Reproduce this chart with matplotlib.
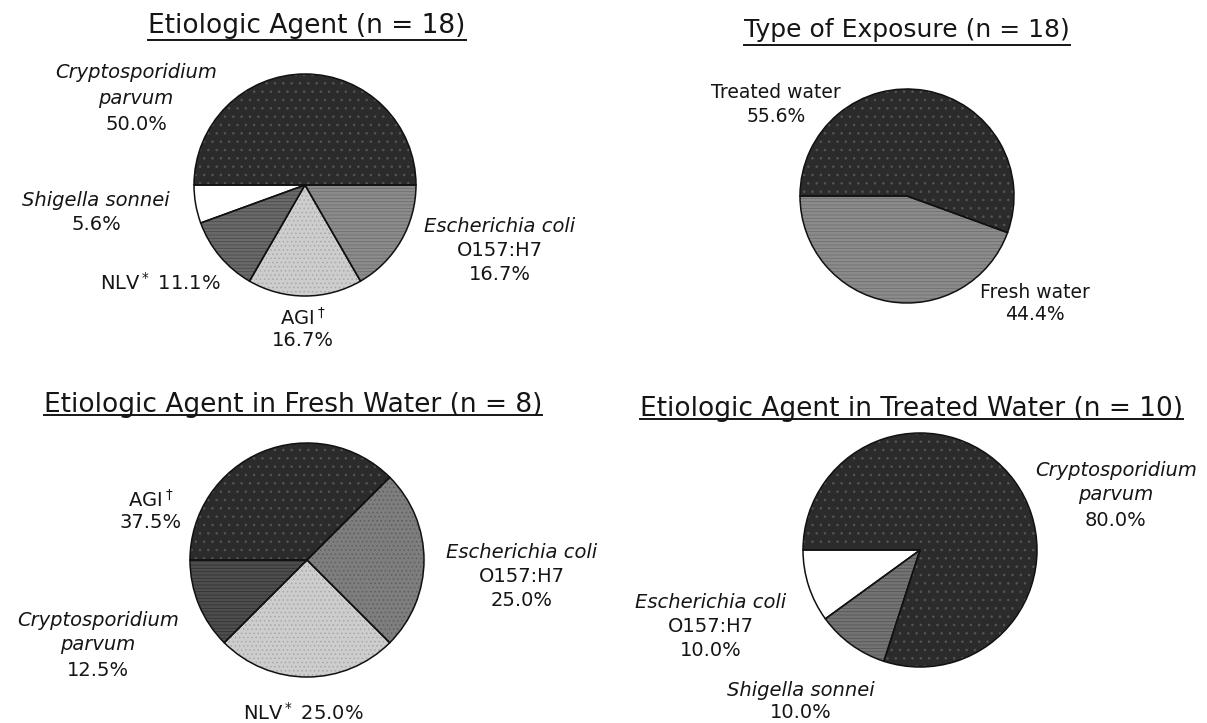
import matplotlib
matplotlib.use('Agg')
import matplotlib.pyplot as plt

W, H = 1207, 723

# case counts (percentages in labels are counts / n)
agent_names = ['Cryptosporidium parvum', 'Shigella sonnei', 'NLV', 'AGI', 'Escherichia coli O157:H7']
agent_counts = [9, 1, 2, 3, 3]

exposure_names = ['Fresh water', 'Treated water']
exposure_counts = [8, 10]

fresh_names = ['AGI', 'Cryptosporidium parvum', 'NLV', 'Escherichia coli O157:H7']
fresh_counts = [3, 1, 2, 2]

treated_names = ['Escherichia coli O157:H7', 'Shigella sonnei', 'Cryptosporidium parvum']
treated_counts = [1, 1, 8]

titles = ['Etiologic Agent (n = 18)', 'Type of Exposure (n = 18)',
          'Etiologic Agent in Fresh Water (n = 8)',
          'Etiologic Agent in Treated Water (n = 10)']

# fill colour + (hatch, hatch colour) to fake the scanned screen textures
DARK = ('#2b2b2b', '..', '#555555')
WHITE = ('#ffffff', '', '#ffffff')
LIGHT = ('#cdcdcd', '....', '#a8a8a8')
MID = ('#8c8c8c', '-----', '#6e6e6e')
MIDDARK = ('#6a6a6a', '-----', '#4a4a4a')

plt.rcParams['font.family'] = 'DejaVu Sans'
plt.rcParams['hatch.linewidth'] = 0.6
fig = plt.figure(figsize=(W / 100, H / 100), dpi=100)
bg = fig.add_axes([0, 0, 1, 1])
bg.set_xlim(0, W)
bg.set_ylim(H, 0)
bg.axis('off')


def pie_at(counts, styles, start, cx, cy, r):
    ax = fig.add_axes([(cx - r) / W, 1 - (cy + r) / H, 2 * r / W, 2 * r / H])
    ax.pie(counts, colors=[s[0] for s in styles], startangle=start, counterclock=True,
           wedgeprops=dict(edgecolor='none', linewidth=0, clip_on=False))
    tex, _ = ax.pie(counts, startangle=start, counterclock=True,
                    wedgeprops=dict(clip_on=False))
    for w, s in zip(tex, styles):
        w.set_facecolor('none')
        w.set_edgecolor(s[2])
        w.set_linewidth(0)
        w.set_hatch(s[1])
    ax.pie(counts, startangle=start, counterclock=True,
           wedgeprops=dict(facecolor='none', edgecolor='#111111', linewidth=1.1, clip_on=False))
    ax.set_aspect('auto')
    ax.set_xlim(-1, 1)
    ax.set_ylim(-1, 1)
    return ax


def pct(counts, i):
    return f'{100 * counts[i] / sum(counts):.1f}%'


def put(x, y0, lines, step=24.5, fs=14):
    for k, (s, it) in enumerate(lines):
        bg.text(x, y0 + k * step, s, ha='center', va='center', fontsize=fs,
                style='italic' if it else 'normal', color='#151515')


pie_at(agent_counts, [DARK, WHITE, MIDDARK, LIGHT, MID], 0, 305, 185, 111)
pie_at(exposure_counts, [MID, DARK], 180, 907, 196, 107)
pie_at(fresh_counts, [DARK, ('#4e4e4e', '-----', '#333333'), LIGHT, ('#7e7e7e', '....', '#5e5e5e')],
       45, 307, 560, 117)
pie_at(treated_counts, [WHITE, ('#747474', '-----', '#555555'), DARK], 180, 920, 550, 117)

# etiologic agent
c = agent_counts
put(136, 73, [('Cryptosporidium', True), ('parvum', True), (pct(c, 0), False)], 25.5)
put(96, 200, [('Shigella sonnei', True), (pct(c, 1), False)], 25)
put(160, 283, [(r'NLV$^*$ ' + pct(c, 2), False)])
put(303, 318, [(r'AGI$^\dagger$', False), (pct(c, 3), False)], 22)
put(500, 227, [('Escherichia coli', True), ('O157:H7', False), (pct(c, 4), False)], 24)

# type of exposure
c = exposure_counts
put(776, 93, [('Treated water', False), (pct(c, 1), False)], 24, 13.5)
put(1035, 292, [('Fresh water', False), (pct(c, 0), False)], 23, 13.5)

# fresh water
c = fresh_counts
put(151, 500, [(r'AGI$^\dagger$', False), (pct(c, 0), False)], 22)
put(98, 620, [('Cryptosporidium', True), ('parvum', True), (pct(c, 1), False)], 25)
put(522, 552, [('Escherichia coli', True), ('O157:H7', False), (pct(c, 3), False)], 24)
put(303, 713, [(r'NLV$^*$ ' + pct(c, 2), False)])

# treated water
c = treated_counts
put(1116, 470, [('Cryptosporidium', True), ('parvum', True), (pct(c, 2), False)], 25)
put(711, 602, [('Escherichia coli', True), ('O157:H7', False), (pct(c, 0), False)], 24.5)
put(801, 690, [('Shigella sonnei', True), (pct(c, 1), False)], 23)

# underlined titles
title_x = [307, 907, 293, 911]
title_base = [33, 37, 412, 416]
title_line = [40, 45, 415, 419]
title_fs = [19, 18, 19, 19]
txts = []
for t, x, yb, fs in zip(titles, title_x, title_base, title_fs):
    txts.append(bg.text(x, yb, t, ha='center', va='baseline', fontsize=fs, color='#151515'))

fig.canvas.draw()
rend = fig.canvas.get_renderer()
for t, ul in zip(txts, title_line):
    bb = t.get_window_extent(rend)
    bg.plot([bb.x0, bb.x1], [ul, ul], color='#151515', lw=1.4)

fig.savefig('out.png', dpi=100)
